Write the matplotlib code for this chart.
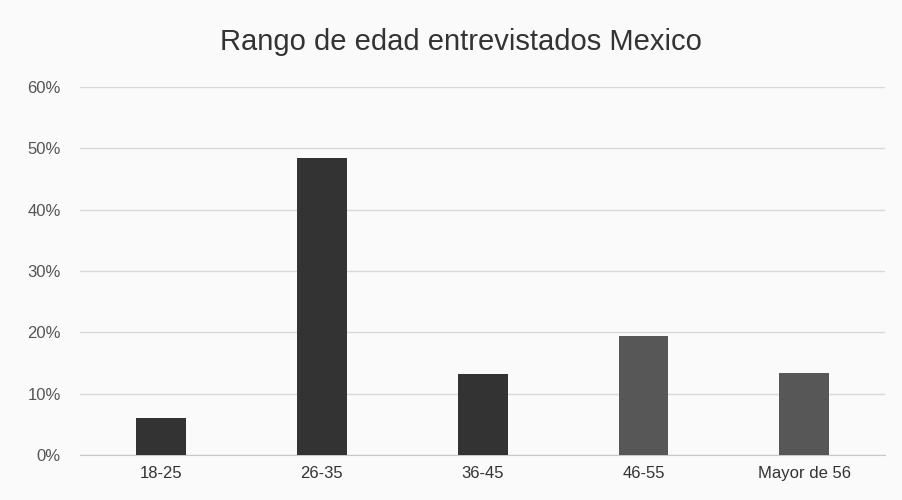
import matplotlib.pyplot as plt
from matplotlib.ticker import PercentFormatter

# rango de edad de los entrevistados
rangos = ['18-25', '26-35', '36-45', '46-55', 'Mayor de 56']
porcentajes = [0.06, 0.484, 0.132, 0.194, 0.134]
colores = ['#333333', '#333333', '#333333', '#575757', '#575757']

plt.rcParams['font.family'] = ['Liberation Sans', 'DejaVu Sans']

fig = plt.figure(figsize=(9.02, 5.0), dpi=100, facecolor='#fafafa')
ax = fig.add_axes([0.089, 0.09, 0.892, 0.736])
ax.set_facecolor('#fafafa')

ax.bar(rangos, porcentajes, width=0.31, color=colores, zorder=3)

ax.set_ylim(0, 0.6)
ax.set_xlim(-0.5, 4.5)
ax.set_yticks([0, 0.1, 0.2, 0.3, 0.4, 0.5, 0.6])
ax.yaxis.set_major_formatter(PercentFormatter(1.0, decimals=0))
ax.grid(axis='y', color='#d9d9d9', linewidth=1, zorder=0)
for s in ['top', 'right', 'left']:
    ax.spines[s].set_visible(False)
ax.spines['bottom'].set_color('#c8c8c8')
ax.tick_params(axis='both', length=0, labelsize=12, colors='#555555')
ax.tick_params(axis='x', pad=8, labelcolor='#333333')
ax.tick_params(axis='y', pad=14)

fig.text(0.511, 0.915, 'Rango de edad entrevistados Mexico', ha='center', va='center',
         fontsize=21, color='#333333')

fig.savefig('out.png', dpi=100, facecolor=fig.get_facecolor())
